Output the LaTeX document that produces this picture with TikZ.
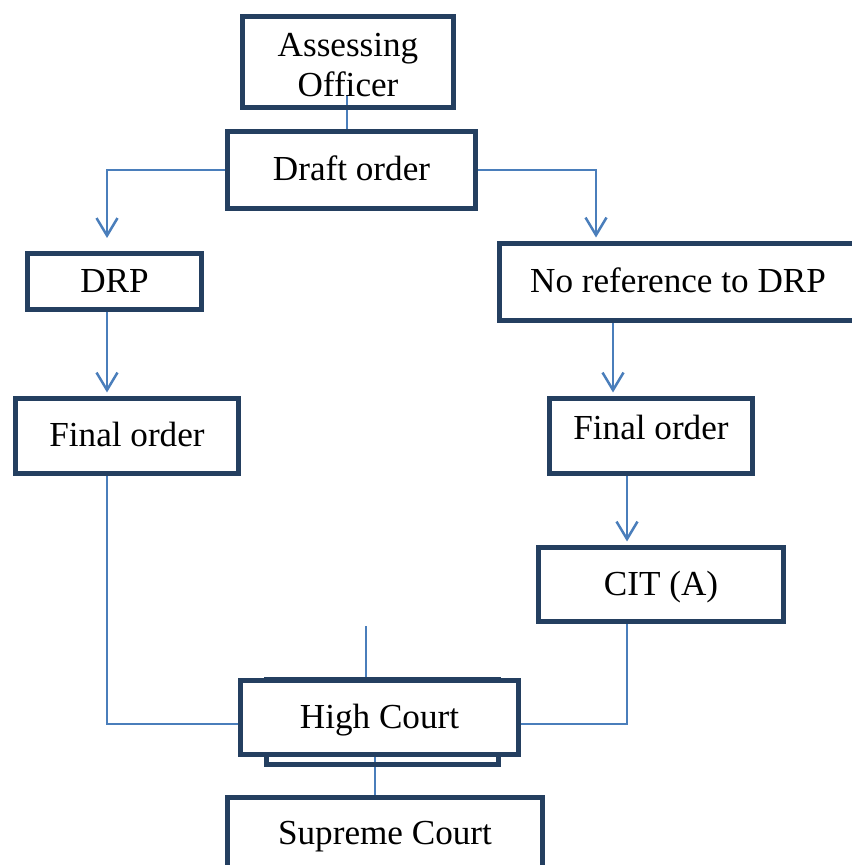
\documentclass[tikz,border=0pt]{standalone}
\usepackage{fontspec}
\setmainfont{Liberation Serif}
\usetikzlibrary{arrows.meta, backgrounds}
\definecolor{boxc}{HTML}{243F60}
\definecolor{linkc}{HTML}{4A7EBB}

\begin{document}
\begin{tikzpicture}[>={Straight Barb[length=0.35cm,width=0.42cm]},
    box/.style={draw=boxc, line width=0.1cm, fill=white, inner sep=0pt,
      align=center, text height=16.4pt, text depth=4pt,
      font=\fontsize{20}{22.7}\selectfont},
    link/.style={draw=linkc, line width=0.05cm},
    arr/.style={link, ->, shorten >=2pt}]
    \useasboundingbox (0,0) rectangle (17.02,-17.3);
    % top
    \node[box, fill=none, text height=43.6pt, minimum width=4.22cm, minimum height=1.82cm]
      (ao) at (6.96,-1.24) {Assessing\\Officer};
    \node[box, minimum width=4.96cm, minimum height=1.54cm]
      (draft) at (7.03,-3.40) {Draft order};
    % left branch
    \node[box, minimum width=3.48cm, minimum height=1.12cm]
      (drp) at (2.29,-5.63) {DRP};
    \node[box, minimum width=4.46cm, minimum height=1.5cm]
      (finl) at (2.54,-8.72) {Final order};
    % right branch
    \node[box, minimum width=7.14cm, minimum height=1.54cm]
      (noref) at (13.56,-5.64) {No reference to DRP};
    \node[box, text depth=12pt, minimum width=4.06cm, minimum height=1.5cm]
      (finr) at (13.02,-8.72) {Final order};
    \node[box, minimum width=4.9cm, minimum height=1.48cm]
      (cit) at (13.22,-11.69) {CIT (A)};
    % courts
    \node[box, fill=none, minimum width=4.64cm, minimum height=1.7cm]
      (hcback) at (7.65,-14.44) {};
    \node[box, minimum width=5.56cm, minimum height=1.48cm]
      (hc) at (7.59,-14.35) {High Court};
    \node[box, minimum width=6.3cm, minimum height=1.46cm]
      (sc) at (7.70,-16.68) {Supreme Court};
    % columns of the connectors
    \coordinate (aoin) at (6.94,-1.9);
    \coordinate (lx) at (2.14,0);
    \coordinate (rxa) at (11.92,0);
    \coordinate (rxb) at (12.26,0);
    \coordinate (rxc) at (12.54,0);
    \coordinate (hx) at (7.32,-12.52);
    \begin{scope}[on background layer]
      \draw[arr] (aoin) -- (aoin |- draft.center);
      \draw[arr, shorten >=0.26cm] (draft.west) -| (lx |- drp.north);
      \draw[arr] (draft.east) -| (rxa |- noref.north);
      \draw[arr] (lx |- drp.south) -- (lx |- finl.north);
      \draw[arr] (rxb |- noref.south) -- (rxb |- finr.north);
      \draw[arr] (rxc |- finr.south) -- (rxc |- cit.north);
      \draw[link] (lx |- finl.south) |- ([yshift=-0.13cm]hc.west);
      \draw[link] (rxc |- cit.south) |- ([yshift=-0.13cm]hc.east);
      \draw[arr] (hx) -- (hx |- hc.center);
      \draw[arr] ([xshift=-0.09cm]hc.center) -- ([xshift=-0.09cm]hc.center |- sc.center);
    \end{scope}
  \end{tikzpicture}
\end{document}
